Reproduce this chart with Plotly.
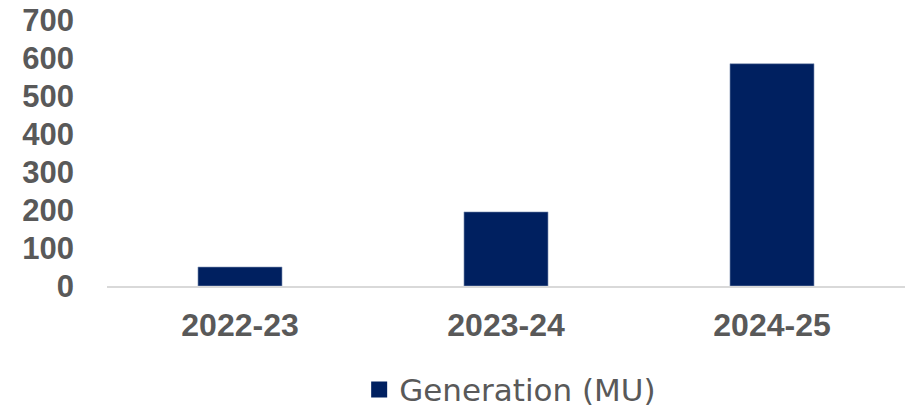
import plotly.graph_objects as go

categories = ["2022-23", "2023-24", "2024-25"]
generation = [50, 195, 585]
series_name = "Generation (MU)"
y_ticks = [0, 100, 200, 300, 400, 500, 600, 700]

BAR = "#002060"
GREY = "#595959"

fig = go.Figure()
fig.add_trace(go.Bar(
    x=categories, y=generation, name=series_name,
    marker=dict(color=BAR, line=dict(color="#8A9BB8", width=0.6)),
    width=0.316, showlegend=False,
))
# legend entry with larger square marker
fig.add_trace(go.Scatter(
    x=[None], y=[None], mode="markers", name=series_name,
    marker=dict(symbol="square", size=19, color=BAR),
    showlegend=True,
))

fig.update_layout(
    width=912, height=408,
    margin=dict(l=107, r=7, t=20, b=122, autoexpand=False),
    paper_bgcolor="white", plot_bgcolor="white",
    bargap=0.684,
    showlegend=True,
    legend=dict(
        orientation="h", x=0.316, xanchor="left", y=-0.39, yanchor="middle",
        font=dict(family="DejaVu Sans", size=31, color=GREY),
        bgcolor="rgba(0,0,0,0)", borderwidth=0,
    ),
    xaxis=dict(
        automargin=False,
        showgrid=False, showline=True, linecolor="#D9D9D9", linewidth=1.5,
        ticks="", tickfont=dict(family="Liberation Sans, Arial", size=32, color=GREY, weight="bold"),
        ticklabelstandoff=10,
    ),
    yaxis=dict(
        automargin=False,
        range=[0, 700], tickvals=y_ticks, showgrid=False, showline=False, zeroline=False,
        ticks="", tickfont=dict(family="Liberation Sans, Arial", size=31, color=GREY, weight="bold"),
        ticklabelstandoff=32,
    ),
)

fig.write_html(
    "out.html",
    config={"displayModeBar": False, "staticPlot": True},
    post_script="document.body.style.margin='0';document.body.style.overflow='hidden';",
)
